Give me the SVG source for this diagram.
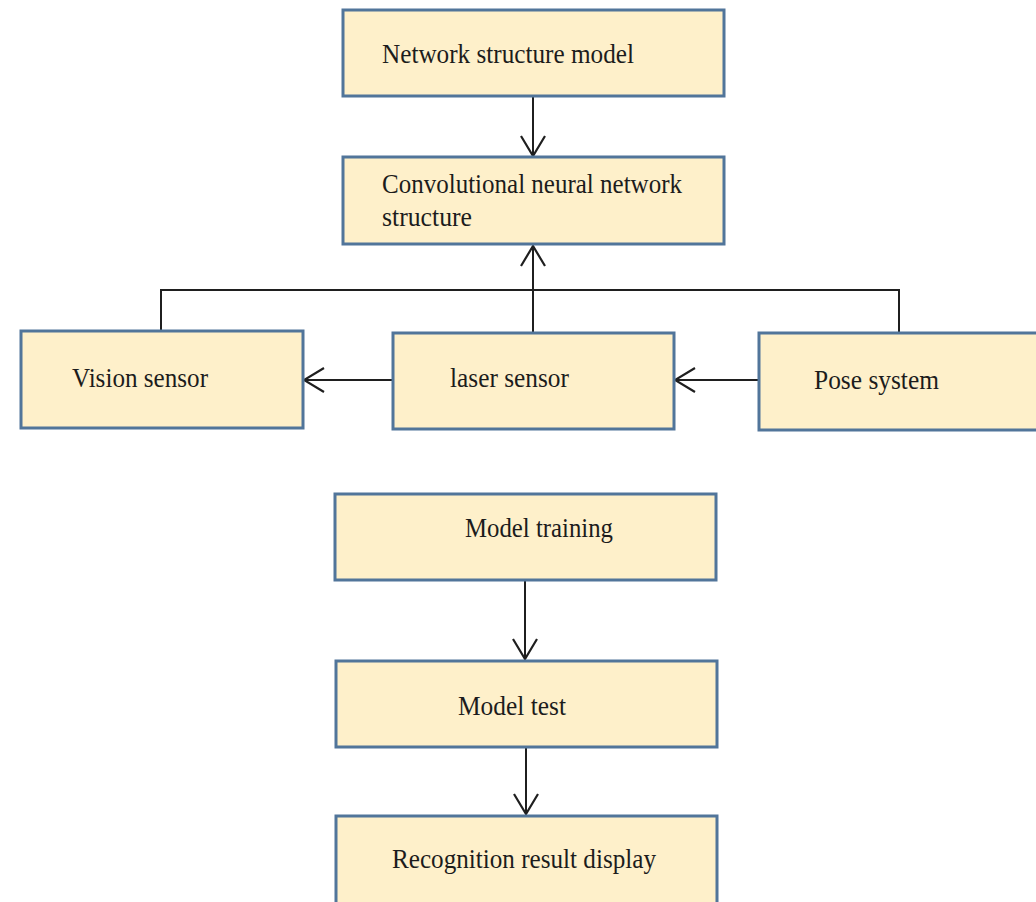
<svg xmlns="http://www.w3.org/2000/svg" width="1036" height="902" viewBox="0 0 1036 902">
  <style>
    .box { fill: #FEF0CA; stroke: #51759A; stroke-width: 3; }
    .lbl { font-family: "Liberation Serif", "Times New Roman", serif; font-size: 28px; fill: #1c1c1c; }
    .con { fill: none; stroke: #1f1f1f; stroke-width: 2; }
  </style>
  <defs>
    <marker id="arr" viewBox="0 0 24 26" refX="22" refY="13" markerWidth="24" markerHeight="26" markerUnits="userSpaceOnUse" orient="auto">
      <path d="M2,1 L22,13 L2,25" fill="none" stroke="#1f1f1f" stroke-width="2.2"/>
    </marker>
  </defs>
  <rect width="1036" height="902" fill="#ffffff"/>

  <g id="connectors">
    <path class="con" d="M533,97 V156" marker-end="url(#arr)"/>
    <path class="con" d="M533,333 V246" marker-end="url(#arr)"/>
    <path class="con" d="M161,331 V290 H899 V333"/>
    <path class="con" d="M393,380 H304" marker-end="url(#arr)"/>
    <path class="con" d="M759,380 H675" marker-end="url(#arr)"/>
    <path class="con" d="M525,580 V659" marker-end="url(#arr)"/>
    <path class="con" d="M526,747 V814" marker-end="url(#arr)"/>
  </g>

  <g id="node-network-structure-model">
    <rect class="box" x="343" y="10" width="381" height="86"/>
    <text class="lbl" x="382" y="63" textLength="252" lengthAdjust="spacingAndGlyphs">Network structure model</text>
  </g>

  <g id="node-cnn-structure">
    <rect class="box" x="343" y="157" width="381" height="87"/>
    <text class="lbl" x="382" y="193" textLength="300" lengthAdjust="spacingAndGlyphs">Convolutional neural network</text>
    <text class="lbl" x="382" y="226" textLength="90" lengthAdjust="spacingAndGlyphs">structure</text>
  </g>

  <g id="node-vision-sensor">
    <rect class="box" x="21" y="331" width="282" height="97"/>
    <text class="lbl" x="72" y="387" textLength="136" lengthAdjust="spacingAndGlyphs">Vision sensor</text>
  </g>

  <g id="node-laser-sensor">
    <rect class="box" x="393" y="333" width="281" height="96"/>
    <text class="lbl" x="450" y="387" textLength="119" lengthAdjust="spacingAndGlyphs">laser sensor</text>
  </g>

  <g id="node-pose-system">
    <rect class="box" x="759" y="333" width="290" height="97"/>
    <text class="lbl" x="814" y="389" textLength="125" lengthAdjust="spacingAndGlyphs">Pose system</text>
  </g>

  <g id="node-model-training">
    <rect class="box" x="335" y="494" width="381" height="86"/>
    <text class="lbl" x="465" y="537" textLength="148" lengthAdjust="spacingAndGlyphs">Model training</text>
  </g>

  <g id="node-model-test">
    <rect class="box" x="336" y="661" width="381" height="86"/>
    <text class="lbl" x="458" y="715" textLength="108" lengthAdjust="spacingAndGlyphs">Model test</text>
  </g>

  <g id="node-recognition-result-display">
    <rect class="box" x="336" y="816" width="381" height="92"/>
    <text class="lbl" x="392" y="868" textLength="264" lengthAdjust="spacingAndGlyphs">Recognition result display</text>
  </g>
</svg>
